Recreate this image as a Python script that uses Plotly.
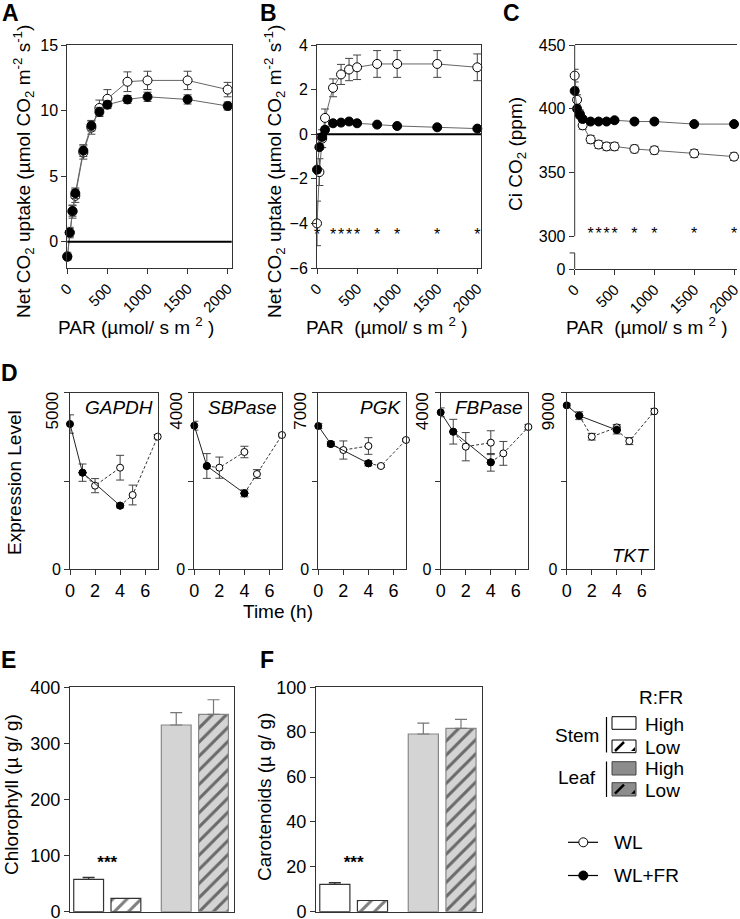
import plotly.graph_objects as go

FONT = 'Arial, "Liberation Sans", sans-serif'
W, H = 740, 919

# ---- panels A-C : light response curves ----
par = [0, 30, 65, 100, 200, 300, 400, 500, 750, 1000, 1500, 2000]

a_wl = [-1.1, 0.7, 2.3, 3.5, 6.8, 8.7, 10.2, 10.9, 12.2, 12.3, 12.3, 11.6]
a_wl_err = [0.3, 0.4, 0.5, 0.5, 0.5, 0.5, 0.6, 0.7, 0.75, 0.7, 0.7, 0.55]
a_fr = [-1.15, 0.7, 2.35, 3.7, 6.95, 8.85, 9.9, 10.45, 10.85, 11.05, 10.85, 10.35]
a_fr_err = [0.2, 0.3, 0.4, 0.4, 0.45, 0.4, 0.35, 0.3, 0.3, 0.35, 0.35, 0.3]

b_wl = [-4.0, -1.7, -0.2, 0.73, 2.08, 2.68, 2.9, 3.0, 3.15, 3.15, 3.15, 3.0]
b_wl_err = [1.0, 0.6, 0.4, 0.4, 0.4, 0.45, 0.5, 0.55, 0.6, 0.6, 0.6, 0.6]
b_fr = [-1.59, -0.58, -0.12, 0.2, 0.49, 0.52, 0.57, 0.49, 0.43, 0.37, 0.31, 0.25]
b_fr_err = [0.15, 0.1, 0.1, 0.08, 0.05, 0.05, 0.05, 0.05, 0.05, 0.05, 0.05, 0.05]

c_wl = [426, 407, 396, 387, 376, 372, 370.5, 370.5, 368.5, 367.5, 365, 362.5]
c_wl_err = [5, 4, 3, 3, 3, 3, 3, 3, 3, 3, 3, 3]
c_fr = [414, 400, 395, 392, 390, 390, 390, 391, 390, 390, 388, 388]
c_fr_err = [3, 2, 2, 1.5, 1, 1, 1, 1, 1, 1, 1, 1]

stars_b = [0, 200, 300, 400, 500, 750, 1000, 1500, 2000]
stars_c = [200, 300, 400, 500, 750, 1000, 1500, 2000]

# ---- panel D : gene expression ----
genes = ['GAPDH', 'SBPase', 'PGK', 'FBPase', 'TKT']
gene_max = [5000, 4000, 7000, 4000, 9000]
t_fr = [0, 1, 4]
t_wl = [2, 4, 5, 7]
d_fr = {
    'GAPDH': [4113, 2736, 1802],
    'SBPase': [3253, 2340, 1721],
    'PGK': [5680, 4967, 4200],
    'FBPase': [3555, 3117, 2423],
    'TKT': [8355, 7828, 7097],
}
d_fr_err = {
    'GAPDH': [260, 245, 60],
    'SBPase': [100, 280, 80],
    'PGK': [100, 100, 100],
    'FBPase': [100, 280, 200],
    'TKT': [100, 200, 200],
}
d_wl = {
    'GAPDH': [2368, 2877, 2104, 3755],
    'SBPase': [2302, 2657, 2158, 3042],
    'PGK': [4728, 4887, 4095, 5125],
    'FBPase': [2777, 2868, 2626, 3223],
    'TKT': [6757, 7232, 6536, 8049],
}
d_wl_err = {
    'GAPDH': [200, 350, 280, 60],
    'SBPase': [240, 130, 100, 40],
    'PGK': [360, 330, 60, 60],
    'FBPase': [320, 270, 270, 60],
    'TKT': [170, 150, 180, 150],
}

# ---- panels E-F : pigments ----
bar_names = ['Stem High', 'Stem Low', 'Leaf High', 'Leaf Low']
chl = [57.6, 23.8, 332.8, 351.8]
chl_err = [3.5, 0, 22, 26]
car = [12.2, 5.0, 79.2, 81.7]
car_err = [0.8, 0, 4.8, 4.0]


def fx(p):
    return p / W


def fy(p):
    return 1 - p / H


fig = go.Figure()

base = dict(showline=True, linecolor='#333', linewidth=1, ticks='outside', ticklen=5,
            tickcolor='#333', showgrid=False, zeroline=False, automargin=False,
            ticklabeloverflow='allow',
            tickfont=dict(size=16, color='black', family=FONT))


def set_axes(i, x0, x1, y0, y1, xopt, yopt):
    k = '' if i == 1 else str(i)
    xa = dict(base, domain=[fx(x0), fx(x1)], anchor='y' + k)
    xa.update(xopt)
    ya = dict(base, domain=[fy(y1), fy(y0)], anchor='x' + k)
    ya.update(yopt)
    fig.update_layout(**{'xaxis' + k: xa, 'yaxis' + k: ya})
    return 'x' + k, 'y' + k


par_x = dict(range=[0, 2050], tickvals=[0, 500, 1000, 1500, 2000], tickangle=-45, mirror=True,
             tickfont=dict(size=15, color='black', family=FONT))
ax_a = set_axes(1, 67.3, 231.7, 45, 268, par_x,
                dict(range=[-2, 15], tickvals=[0, 5, 10, 15], mirror=True))
ax_b = set_axes(2, 317, 481, 45, 268, dict(par_x, range=[0, 2046]),
                dict(range=[-6, 4], tickvals=[-6, -4, -2, 0, 2, 4], mirror=True))
c_lo = 274.4
ax_c = set_axes(3, 574.7, 737.3, 45, 269, dict(par_x, range=[0, 2041]),
                dict(range=[c_lo, 450], tickvals=[c_lo, 300, 350, 400, 450],
                     ticktext=['0', '300', '350', '400', '450'], showline=False))


def curve(ax, x, y, err, filled, size=9, dash='solid', color='#666'):
    fig.add_trace(go.Scatter(
        x=x, y=y, xaxis=ax[0], yaxis=ax[1], mode='lines+markers', cliponaxis=False,
        line=dict(color=color, width=1, dash=dash),
        marker=dict(symbol='circle', size=size, color='black' if filled else 'white',
                    line=dict(color='black', width=1)),
        error_y=dict(type='data', array=err, color='#444', thickness=1, width=4),
        showlegend=False, hoverinfo='skip'))


for ax, wl, wle, fr, fre in [(ax_a, a_wl, a_wl_err, a_fr, a_fr_err),
                             (ax_b, b_wl, b_wl_err, b_fr, b_fr_err),
                             (ax_c, c_wl, c_wl_err, c_fr, c_fr_err)]:
    curve(ax, par, wl, wle, False)
    curve(ax, par, fr, fre, True)

for ax, sx, sy in [(ax_b, stars_b, -4.55), (ax_c, stars_c, 301)]:
    fig.add_trace(go.Scatter(x=sx, y=[sy] * len(sx), xaxis=ax[0], yaxis=ax[1], mode='text',
                             text=['*'] * len(sx), cliponaxis=False, showlegend=False,
                             textfont=dict(size=16, color='black', family=FONT)))

shapes = []
for ax in (ax_a, ax_b):
    shapes.append(dict(type='line', xref=ax[0] + ' domain', yref=ax[1], x0=0, x1=1, y0=0, y1=0,
                       line=dict(color='black', width=2)))
# broken left axis of C
shapes.append(dict(type='line', xref='x3 domain', yref='y3', x0=0, x1=0, y0=300, y1=450,
                   line=dict(color='#333', width=1)))
shapes.append(dict(type='line', xref='x3 domain', yref='y3', x0=0, x1=0, y0=c_lo, y1=287,
                   line=dict(color='#333', width=1)))
shapes.append(dict(type='line', xref='x3 domain', yref='y3', x0=-0.031, x1=0, y0=287, y1=287,
                   line=dict(color='#333', width=1)))

# ---- D panels ----
d_left = [70, 194.3, 318.3, 440.7, 566.7]
d_w = 87.7
annotations = []
for n, g in enumerate(genes):
    left = d_left[n]
    ymax = gene_max[n]
    ax = set_axes(4 + n, left, left + d_w, 392.7, 569.3,
                  dict(range=[0, 7], tickvals=[0, 2, 4, 6], mirror=True,
                       tickfont=dict(size=18, color='black', family=FONT)),
                  dict(range=[0, ymax], tickvals=[0, ymax / 2, ymax], ticktext=['0', '', ''],
                       mirror=True))
    fr = d_fr[g]
    wl = d_wl[g]
    # dashed return-to-WL traces start from the WL+FR values
    curve(ax, [t_fr[1]] + t_wl[:2], [fr[1]] + wl[:2], [0] + d_wl_err[g][:2], False, size=7,
          dash='3px,2px', color='#333')
    curve(ax, [t_fr[2]] + t_wl[2:], [fr[2]] + wl[2:], [0] + d_wl_err[g][2:], False, size=7,
          dash='3px,2px', color='#333')
    curve(ax, t_fr, fr, d_fr_err[g], True, size=7, color='#222')
    annotations.append(dict(xref='paper', yref='paper', x=fx(left - 7), y=fy(390),
                            xanchor='right', yanchor='top', textangle=-90, showarrow=False,
                            text=str(ymax), font=dict(size=17, color='black', family=FONT)))
    gy = 555 if g == 'TKT' else 407.5
    annotations.append(dict(xref='paper', yref='paper', x=fx(left + d_w - 3), y=fy(gy),
                            xanchor='right', yanchor='middle', showarrow=False,
                            text='<i>%s</i>' % g, font=dict(size=19, color='black', family=FONT)))

# ---- E/F bars ----
bar_pos = [0, 1, 2.35, 3.35]
bar_fill = ['white', 'white', '#d4d4d4', '#d4d4d4']
bar_line = ['#333', '#333', '#888', '#888']
bar_hatch = ['', '/', '', '/']
bar_errc = ['#333', '#333', '#777', '#777']
sig_y = [86, 21.5]

for i, (vals, errs, yr, ytk) in enumerate([(chl, chl_err, 400, 100), (car, car_err, 100, 20)]):
    left = 70 if i == 0 else 316
    right = 234 if i == 0 else 481.7
    k = 9 + i
    ax = set_axes(k, left, right, 687.3, 911.7,
                  dict(range=[-0.5, 3.9], showticklabels=False, ticks='', mirror=True),
                  dict(range=[0, yr], tickvals=list(range(0, yr + 1, ytk)), mirror=True,
                       tickfont=dict(size=18, color='black', family=FONT)))
    for j in range(4):
        fig.add_trace(go.Bar(
            x=[bar_pos[j]], y=[vals[j]], xaxis=ax[0], yaxis=ax[1], width=0.8,
            marker=dict(color=bar_fill[j], line=dict(color=bar_line[j], width=1.2),
                        pattern=dict(shape=bar_hatch[j], fgcolor='black', size=10, solidity=0.3,
                                     fillmode='overlay')),
            error_y=dict(type='data', array=[errs[j]], arrayminus=[0], symmetric=False,
                         color=bar_errc[j], thickness=1.2, width=6, visible=errs[j] > 0),
            showlegend=False, name=bar_names[j], hoverinfo='skip'))
    fig.add_trace(go.Scatter(x=[0.5], y=[sig_y[i]], xaxis=ax[0], yaxis=ax[1],
                             mode='text', text=['<b>***</b>'], showlegend=False,
                             textfont=dict(size=17, color='black', family=FONT)))


def note(x, y, text, size=19, angle=0, xa='center', ya='middle'):
    annotations.append(dict(xref='paper', yref='paper', x=fx(x), y=fy(y), text=text,
                            showarrow=False, textangle=angle, xanchor=xa, yanchor=ya,
                            font=dict(size=size, color='black', family=FONT)))


for lab, x, y in [('A', 10, 13), ('B', 268, 13), ('C', 511, 13), ('D', 9, 373),
                  ('E', 8, 660), ('F', 267, 660)]:
    note(x, y, '<b>%s</b>' % lab, size=23)

ytitle = 'Net CO<sub>2</sub> uptake (µmol CO<sub>2</sub> m<sup>-2</sup> s<sup>-1</sup>)'
note(23, 172, ytitle, angle=-90)
note(274, 172, ytitle, angle=-90)
note(517, 154, 'Ci CO<sub>2</sub> (ppm)', angle=-90)
note(136, 326, 'PAR (µmol/ s m <sup>2</sup> )')
note(387, 326, 'PAR  (µmol/ s m <sup>2</sup> )')
note(647, 326, 'PAR  (µmol/ s m <sup>2</sup> )')
note(15, 483, 'Expression Level', angle=-90)
note(278, 611, 'Time (h)')
note(11, 795, 'Chlorophyll (µ g/ g)', angle=-90)
note(264, 797, 'Carotenoids (µ g/ g)', angle=-90)

# ---- legend drawn by hand ----
note(661, 697, 'R:FR')
note(601, 735, 'Stem', xa='right')
note(598, 777, 'Leaf', xa='right')
for y, t in [(724, 'High'), (747, 'Low'), (768.5, 'High'), (790, 'Low')]:
    note(643, y, t, xa='left')
note(612, 842.3, 'WL', xa='left')
note(612, 875.5, 'WL+FR', xa='left')


def rect(x0, y0, x1, y1, fill, line='black', lw=1):
    shapes.append(dict(type='rect', xref='paper', yref='paper', x0=fx(x0), x1=fx(x1),
                       y0=fy(y1), y1=fy(y0), fillcolor=fill, line=dict(color=line, width=lw)))


def seg(x0, y0, x1, y1, color='black', lw=1, dash='solid'):
    shapes.append(dict(type='line', xref='paper', yref='paper', x0=fx(x0), x1=fx(x1),
                       y0=fy(y0), y1=fy(y1), line=dict(color=color, width=lw, dash=dash)))


seg(606.5, 717, 606.5, 752.5, lw=1.2)
seg(606.5, 761.5, 606.5, 797, lw=1.2)
rect(612, 716.7, 636, 729.3, 'white')
rect(612, 740, 636, 752.7, 'white')
rect(612, 761.7, 636, 775, '#8c8c8c', line='#444')
rect(612, 782.7, 636, 796, '#8c8c8c', line='#444')
for y0 in (740, 782.7):
    seg(615, y0 + 11, 624, y0 + 2, lw=2.5)
    shapes.append(dict(type='path', xref='paper', yref='paper', fillcolor='black',
                       line=dict(color='black', width=0),
                       path='M %f,%f L %f,%f L %f,%f Z' % (fx(631), fy(y0 + 11), fx(635), fy(y0 + 11),
                                                           fx(635), fy(y0 + 7))))
for y, filled in [(842.3, False), (875.5, True)]:
    seg(568, y, 598, y, lw=1.2)
    shapes.append(dict(type='circle', xref='paper', yref='paper',
                       x0=fx(578.8), x1=fx(587.8), y0=fy(y + 4.5), y1=fy(y - 4.5),
                       fillcolor='black' if filled else 'white', line=dict(color='black', width=1)))

fig.update_layout(width=W, height=H, autosize=False, margin=dict(l=0, r=0, t=0, b=0, pad=0),
                  paper_bgcolor='white', plot_bgcolor='white', barmode='overlay',
                  font=dict(family=FONT, color='black'),
                  shapes=shapes, annotations=annotations)

# drop the default page margin so the figure sits at the window's top-left corner
fig.write_html('out.html', config={'displayModeBar': False},
               post_script="document.body.style.margin='0';")
